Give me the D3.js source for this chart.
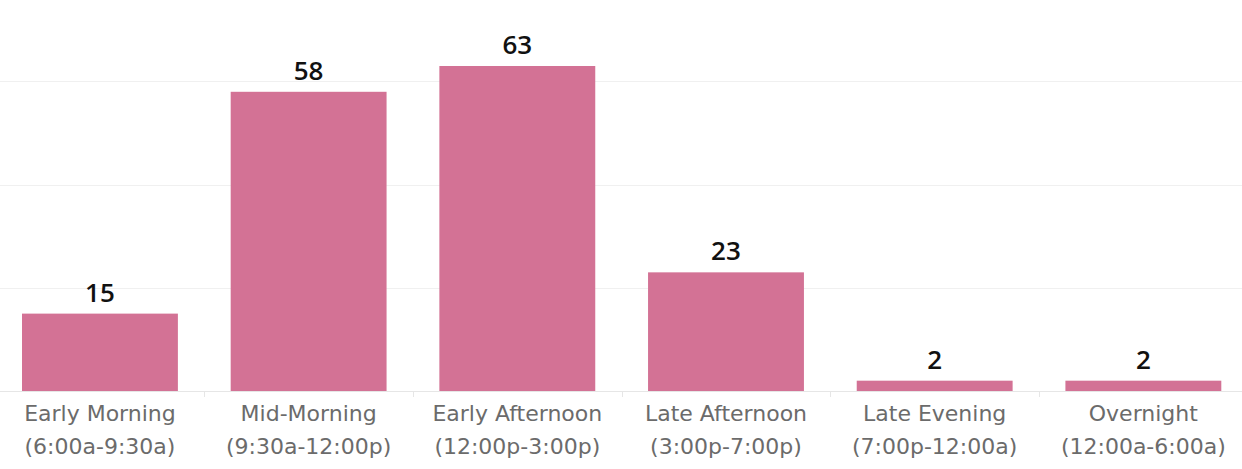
<!DOCTYPE html>
<html><head><meta charset="utf-8">
<script src="https://cdn.jsdelivr.net/npm/d3@7"></script>
<style>body{margin:0;background:#fff;}svg{display:block;}</style>
</head><body>
<script>
const categories = ["Early Morning","Mid-Morning","Early Afternoon","Late Afternoon","Late Evening","Overnight"];
const subLabels = ["(6:00a-9:30a)","(9:30a-12:00p)","(12:00p-3:00p)","(3:00p-7:00p)","(7:00p-12:00a)","(12:00a-6:00a)"];
const values = [15,58,63,23,2,2];
const gridTicks = [0,20,40,60];

const W=1242,H=469;
const svg=d3.select("body").append("svg").attr("width",W).attr("height",H);
const x=d3.scaleBand().domain(categories).range([-4.4,1247.7]).padding(0);
const y=d3.scaleLinear().domain([0,63]).range([391,66]);
const font="'Open Sans', sans-serif";
const axisFont="'DejaVu Sans', sans-serif";

svg.append("g").selectAll("line").data(gridTicks).join("line")
  .attr("x1",0).attr("x2",W).attr("y1",d=>Math.round(y(d))+0.5).attr("y2",d=>Math.round(y(d))+0.5)
  .attr("stroke",d=>d===0?"#e6e6e6":"#f0f0f0").attr("stroke-width",1);

svg.append("g").selectAll("line").data(categories.slice(1)).join("line")
  .attr("x1",d=>Math.round(x(d))+0.5).attr("x2",d=>Math.round(x(d))+0.5)
  .attr("y1",391).attr("y2",397).attr("stroke","#e6e6e6");

const bw=x.bandwidth()*0.747, off=(x.bandwidth()-bw)/2;
svg.append("g").selectAll("rect").data(values).join("rect")
  .attr("x",(d,i)=>x(categories[i])+off).attr("width",bw)
  .attr("y",d=>y(d)).attr("height",d=>y(0)-y(d)).attr("fill","#d37295");

svg.append("g").selectAll("text").data(values).join("text")
  .attr("x",(d,i)=>x(categories[i])+x.bandwidth()/2).attr("y",d=>y(d)-12)
  .attr("text-anchor","middle").attr("font-family",font).attr("font-weight","600")
  .attr("font-size",26).attr("fill","#111").text(d=>d);

const lab=svg.append("g").selectAll("text").data(categories).join("text")
  .attr("x",d=>x(d)+x.bandwidth()/2).attr("text-anchor","middle")
  .attr("font-family",axisFont).attr("font-size",22).attr("fill","#6b6b6b");
lab.append("tspan").attr("x",d=>x(d)+x.bandwidth()/2).attr("y",421).text(d=>d);
lab.append("tspan").attr("x",d=>x(d)+x.bandwidth()/2).attr("y",454).text((d,i)=>subLabels[i]);
</script>
</body></html>
